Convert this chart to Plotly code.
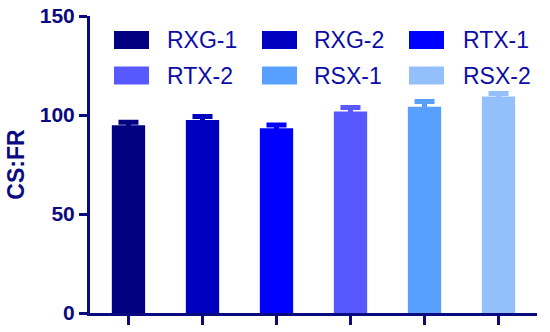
import plotly.graph_objects as go

categories = ["RXG-1", "RXG-2", "RTX-1", "RTX-2", "RSX-1", "RSX-2"]
values = [94.8, 97.5, 93.3, 101.8, 104.2, 109.3]
errors = [1.6, 1.8, 1.7, 2.0, 2.6, 1.5]
colors = ["#000080", "#0000C0", "#0000FF", "#5858FF", "#58A0FF", "#93C0FA"]
y_ticks = [0, 50, 100, 150]

AX = "#0a0a80"
TXT = "#0c0ca6"
FONT = "Liberation Sans, Arial"

fig = go.Figure()
for c, v, e, col in zip(categories, values, errors, colors):
    fig.add_trace(go.Bar(
        x=[c], y=[v], width=0.45, marker=dict(color=col, line=dict(width=0)),
        error_y=dict(type="data", array=[e], thickness=5, width=10, color=col),
        showlegend=False,
    ))

# manual legend (paper coords)
L, R, T, B = 90, 13, 16, 19
W, H = 550 - L - R, 332 - T - B
def px_x(p): return (p - L) / W
def px_y(p): return (332 - B - p) / H

sw_x = [114, 262, 409]
tx_x = [165, 312, 461]
row_y = [40, 75.5]
shapes = []
annotations = []
for i, (name, col) in enumerate(zip(categories, colors)):
    r, c = divmod(i, 3)
    yc = row_y[r]
    shapes.append(dict(type="rect", xref="paper", yref="paper",
                       x0=px_x(sw_x[c]), x1=px_x(sw_x[c] + 35),
                       y0=px_y(yc + 9), y1=px_y(yc - 9),
                       fillcolor=col, line=dict(width=0)))
    annotations.append(dict(xref="paper", yref="paper", x=px_x(tx_x[c]), y=px_y(yc),
                            text=name, showarrow=False, xanchor="left", yanchor="middle",
                            font=dict(family=FONT, size=23, color=TXT)))

fig.update_layout(
    width=550, height=332,
    margin=dict(l=L, r=R, t=T, b=B, pad=0, autoexpand=False),
    plot_bgcolor="white", paper_bgcolor="white",
    barmode="overlay",
    shapes=shapes, annotations=annotations,
    xaxis=dict(type="category", range=[-0.52, 5.52], showgrid=False, zeroline=False,
               showline=True, linecolor=AX, linewidth=3, automargin=False,
               ticks="outside", ticklen=9, tickwidth=2.5, tickcolor=AX,
               showticklabels=False),
    yaxis=dict(range=[0, 150], tickvals=y_ticks, showgrid=False, zeroline=False,
               showline=True, linecolor=AX, linewidth=3, automargin=False,
               ticks="outside", ticklen=8, tickwidth=2.5, tickcolor=AX,
               tickfont=dict(family=FONT, size=21, color=AX, weight="bold"),
               title=dict(text="<b>CS:FR</b>", standoff=9,
                          font=dict(family=FONT, size=23, color=AX))),
)
fig.write_html("out.html", config={"displayModeBar": False},
               post_script="document.body.style.margin='0';")
